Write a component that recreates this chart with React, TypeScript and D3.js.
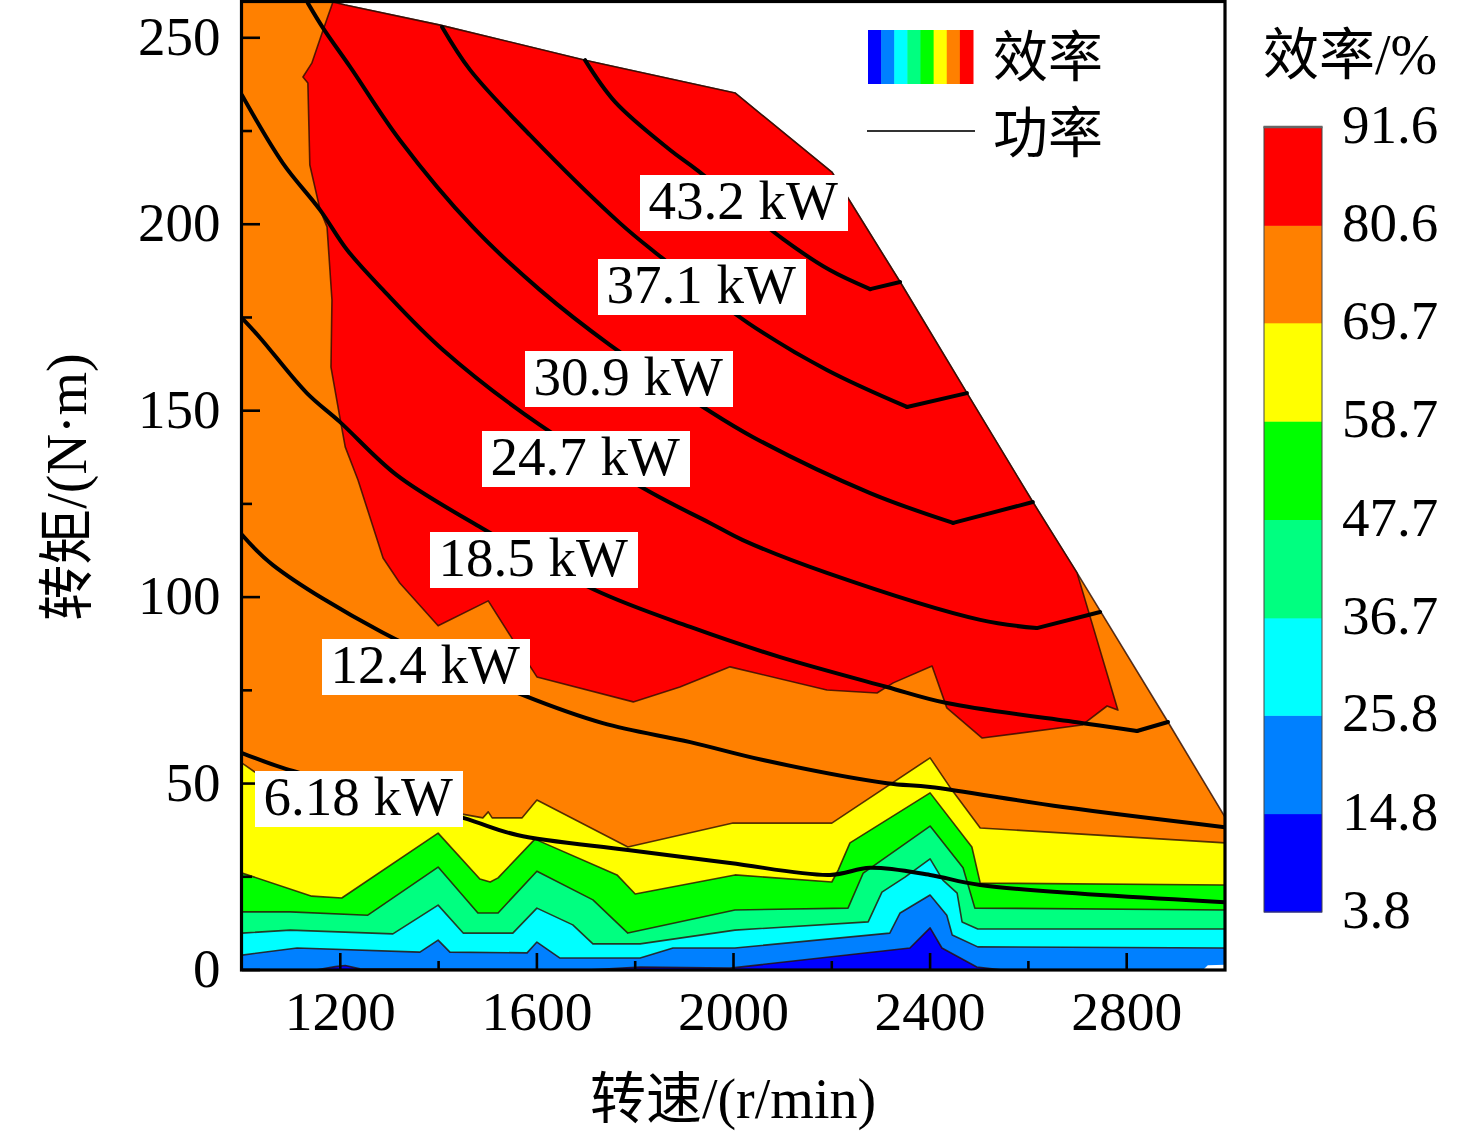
import React from "react";
import * as d3 from "d3";

type Pt = [number, number];

// Efficiency colour bar
const levels = [3.8, 14.8, 25.8, 36.7, 47.7, 58.7, 69.7, 80.6, 91.6];
const levelColors = ["#0000ff", "#0080ff", "#00ffff", "#00ff80", "#00ff00", "#ffff00", "#ff8000", "#ff0000"];

// Axis ticks
const xMajor = [1200, 1600, 2000, 2400, 2800];
const xMinor = [1400, 1800, 2200, 2600];
const yMajor = [0, 50, 100, 150, 200, 250];
const yMinor = [25, 75, 125, 175, 225];

// Contour regions: [speed r/min, torque N·m]
const envelope: Pt[] = [[1000, 0], [1000, 259.6], [1185, 259.6], [1210, 258.8], [1403, 253.4], [1698, 244], [2003, 235.2], [2200, 214], [2339, 184.5], [2475, 154.7], [2609, 125.5], [2699, 106.5], [2884, 66.5], [3000, 41], [3000, 0]];
const redRegion: Pt[] = [[1185, 259.6], [1165, 252.1], [1142, 243.2], [1124, 239.5], [1134, 237.9], [1138, 215.9], [1159, 203.8], [1173, 199.3], [1183, 179.7], [1181, 161.7], [1199, 148.3], [1210, 140.3], [1236, 131.4], [1287, 110.5], [1321, 103.8], [1399, 92.3], [1501, 99], [1549, 89], [1600, 78.6], [1796, 71.9], [1891, 75.9], [1993, 81.3], [2190, 75.1], [2292, 74.3], [2325, 77], [2404, 81.5], [2434, 70.3], [2506, 62.2], [2709, 65.7], [2760, 70.8], [2782, 69.7], [2699, 106.5], [2609, 125.5], [2475, 154.7], [2339, 184.5], [2200, 214], [2003, 235.2], [1698, 244], [1403, 253.4], [1210, 258.8]];
const yellowTop: Pt[] = [[1000, 55.5], [1026, 53.1], [1448, 41.8], [1490, 40.8], [1501, 42.4], [1509, 40.8], [1570, 40.8], [1600, 45.6], [1785, 33], [1999, 39.4], [2200, 39.4], [2400, 56.9], [2440, 49.1], [2502, 38.1], [3000, 34.1]];
const greenTop: Pt[] = [[1000, 26], [1142, 19.8], [1203, 19.3], [1399, 36.7], [1484, 24.4], [1505, 23.6], [1521, 24.7], [1596, 35.1], [1763, 25.5], [1800, 20.4], [2003, 25.5], [2200, 23.6], [2213, 26.8], [2237, 34.1], [2400, 47.5], [2485, 33], [2502, 23.3], [3000, 22.8]];
const springTop: Pt[] = [[1000, 15.6], [1098, 15.6], [1256, 14.7], [1399, 27.6], [1480, 15.3], [1521, 15.3], [1600, 26.5], [1714, 18.8], [1785, 9.9], [2003, 16.1], [2233, 16.6], [2264, 26], [2400, 38.6], [2467, 27.4], [2491, 16.6], [3000, 16.1]];
const cyanTop: Pt[] = [[1000, 9.9], [1098, 10.7], [1307, 9.7], [1399, 17.4], [1450, 9.9], [1551, 9.9], [1600, 16.6], [1673, 12.1], [1714, 7], [1810, 7], [2003, 10.7], [2274, 12.9], [2302, 20.9], [2349, 24.9], [2400, 29.8], [2426, 24.1], [2455, 20.6], [2465, 12.9], [2497, 11], [3000, 11]];
const blueTop: Pt[] = [[1000, 4], [1112, 5.9], [1362, 4.8], [1399, 8], [1423, 4.8], [1580, 4.6], [1600, 7.5], [1647, 3.2], [1810, 3.2], [1877, 5.9], [2003, 5.9], [2318, 9.9], [2339, 15.3], [2400, 20.1], [2434, 14.7], [2445, 9.4], [2497, 6.2], [3000, 5.9]];
const darkBlueTop: Pt[] = [[1150, 0], [1190, 0.9], [1210, 1.2], [1240, 0.3], [1702, 0], [1810, 0.8], [1993, 0.5], [2359, 5.9], [2400, 11.3], [2424, 5.9], [2495, 0.8], [2548, 0]];
const whiteBottom: Pt[] = [[2955, 0], [2965, 1.3], [3000, 1.4]];

// Constant-power curves: the smooth run, then the straight end-piece up to the envelope
const p432: Pt[] = [[1698, 244], [1759, 232.8], [1871, 219.9], [1926, 214.5], [2101, 196], [2196, 187.7], [2278, 182.6]];
const p432End: Pt[] = [[2278, 182.6], [2339, 184.5]];
const p371: Pt[] = [[1407, 252.9], [1464, 241.4], [1586, 223.9], [1769, 200.3], [1840, 192.5], [2030, 173.5], [2190, 160.9], [2353, 151]];
const p371End: Pt[] = [[2353, 151], [2475, 154.7]];
const p309: Pt[] = [[1134, 259.3], [1165, 252.6], [1220, 242.2], [1321, 222.6], [1470, 199.2], [1606, 182.4], [1749, 167.6], [1938, 151], [2040, 142.9], [2278, 127.9], [2447, 119.9]];
const p309End: Pt[] = [[2447, 119.9], [2609, 125.5]];
const p247: Pt[] = [[1000, 234.6], [1083, 216.4], [1159, 203.8], [1214, 193.1], [1287, 182.4], [1409, 166.3], [1606, 146.2], [1834, 127.9], [1952, 119.9], [2019, 115.3], [2190, 106.5], [2502, 93.9], [2617, 91.7]];
const p247End: Pt[] = [[2617, 91.7], [2746, 96]];
const p185: Pt[] = [[1000, 174.8], [1037, 169.5], [1132, 154.7], [1199, 147], [1315, 132.7], [1478, 119.3], [1718, 101.9], [1912, 92], [2095, 83.9], [2312, 75.9], [2434, 71.6], [2711, 66.2], [2821, 64.1]];
const p185End: Pt[] = [[2821, 64.1], [2884, 66.5]];
const p124: Pt[] = [[1000, 116.7], [1063, 108.6], [1285, 90.6], [1572, 73.7], [1734, 66.2], [1912, 61.1], [2060, 56.3], [2312, 50.1], [2400, 49.1], [2670, 43.7], [3000, 38.3]];
const p618: Pt[] = [[1000, 58.2], [1083, 54.2], [1450, 40.8], [1560, 36.2], [1785, 32.2], [1993, 28.7], [2196, 25.5], [2278, 27.4], [2400, 25.5], [2502, 22.8], [3000, 18.2]];
const powerCurves = [p432, p371, p309, p247, p185, p124, p618];
const powerEnds = [p432End, p371End, p309End, p247End, p185End];

const powerLabels = ["43.2 kW", "37.1 kW", "30.9 kW", "24.7 kW", "18.5 kW", "12.4 kW", "6.18 kW"];
const labelLeft = [640, 598, 525, 482, 430, 322, 255];
const labelTop = [175, 259, 351, 431, 532, 639, 771];

const W = 1476;
const H = 1135;
const FONT = "'Liberation Serif', 'Noto Sans CJK SC', serif";

const x = d3.scaleLinear().domain([1000, 3000]).range([242, 1225]);
const y = d3.scaleLinear().domain([0, 259.6]).range([970, 2]);
const barY = d3.scaleLinear().domain([3.8, 91.6]).range([912, 127]);
const swatch = d3.scaleBand<number>().domain(d3.range(levelColors.length)).range([868, 973]);

const line = d3.line<Pt>().x((d) => x(d[0])).y((d) => y(d[1]));
const smooth = d3.line<Pt>().x((d) => x(d[0])).y((d) => y(d[1])).curve(d3.curveCatmullRom.alpha(0.5));
const poly = (pts: Pt[]) => line(pts) + "Z";
const band = (top: Pt[]) => {
  const first = top[0][0];
  const last = top[top.length - 1][0];
  return poly([[first, 0], ...top, [last, 0]]);
};

const OUTLINE = { stroke: "#2a0a00", strokeWidth: 1.6, strokeOpacity: 0.8, strokeLinejoin: "round" as const };
const POWER = { fill: "none", stroke: "#000", strokeWidth: 4, strokeLinejoin: "round" as const, strokeLinecap: "round" as const };

export default function App() {
  const bands: [Pt[], string][] = [
    [yellowTop, levelColors[5]],
    [greenTop, levelColors[4]],
    [springTop, levelColors[3]],
    [cyanTop, levelColors[2]],
    [blueTop, levelColors[1]],
    [darkBlueTop, levelColors[0]],
  ];
  return (
    <svg
      width={W}
      height={H}
      viewBox={`0 0 ${W} ${H}`}
      style={{ position: "absolute", left: 0, top: 0, display: "block", background: "#fff" }}
      fontFamily={FONT}
      fontSize={55}
      fill="#000"
    >
      <defs>
        <clipPath id="plot">
          <rect x={242} y={2} width={983} height={968} />
        </clipPath>
      </defs>

      <g clipPath="url(#plot)">
        <path d={poly(envelope)} fill={levelColors[6]} {...OUTLINE} />
        <path d={poly(redRegion)} fill={levelColors[7]} {...OUTLINE} />
        {bands.map(([top, color], i) => (
          <path key={i} d={band(top)} fill={color} {...OUTLINE} />
        ))}
        <path d={band(whiteBottom)} fill="#fff" />
        {powerCurves.map((c, i) => (
          <path key={i} d={smooth(c) as string} {...POWER} />
        ))}
        {powerEnds.map((c, i) => (
          <path key={i} d={line(c) as string} {...POWER} />
        ))}
      </g>

      {/* Ticks */}
      <g stroke="#000" strokeWidth={2.6}>
        {xMajor.map((t) => <line key={t} x1={x(t)} x2={x(t)} y1={970} y2={953} />)}
        {xMinor.map((t) => <line key={t} x1={x(t)} x2={x(t)} y1={970} y2={961} />)}
        {yMajor.map((t) => <line key={t} x1={242} x2={260} y1={y(t)} y2={y(t)} />)}
        {yMinor.map((t) => <line key={t} x1={242} x2={252} y1={y(t)} y2={y(t)} />)}
      </g>

      <rect x={241.5} y={1.5} width={983.5} height={968.5} fill="none" stroke="#000" strokeWidth={3.2} />

      {/* Power labels */}
      {powerLabels.map((s, i) => (
        <g key={s}>
          <rect x={labelLeft[i]} y={labelTop[i]} width={208} height={56} fill="#fff" />
          <text x={labelLeft[i] + 8.5} y={labelTop[i] + 44} fontSize={55}>{s}</text>
        </g>
      ))}

      {/* Tick labels */}
      {xMajor.map((t) => (
        <text key={t} x={x(t)} y={1029.5} textAnchor="middle" fontSize={55.5}>{t}</text>
      ))}
      {yMajor.map((t) => (
        <text key={t} x={220.5} y={y(t) + 17} textAnchor="end" fontSize={55}>{t}</text>
      ))}

      {/* Axis titles */}
      <text x={733} y={1118} textAnchor="middle" fontSize={56}>转速/(r/min)</text>
      <text transform="translate(86,487) rotate(-90)" textAnchor="middle" fontSize={56}>转矩/(N·m)</text>

      {/* Legend */}
      {levelColors.map((c, i) => (
        <rect key={c} x={swatch(i)} y={30} width={swatch.bandwidth() + 0.5} height={54} fill={c} />
      ))}
      <text x={993} y={76}>效率</text>
      <line x1={867} x2={975} y1={131} y2={131} stroke="#333" strokeWidth={2} />
      <text x={993} y={152}>功率</text>

      {/* Colour bar */}
      <text x={1263} y={74} fontSize={56}>效率/%</text>
      {levelColors.map((c, i) => (
        <rect key={c} x={1264} y={barY(levels[i + 1])} width={58} height={barY(levels[i]) - barY(levels[i + 1]) + 0.5} fill={c} />
      ))}
      <rect x={1264} y={barY(91.6)} width={58} height={barY(3.8) - barY(91.6)} fill="none" stroke="#444" strokeWidth={1} />
      <line x1={1263.5} x2={1322.5} y1={127} y2={127} stroke="#666" strokeWidth={2.5} />
      {levels.map((v) => (
        <text key={v} x={1342} y={barY(v) + 16} fontSize={55}>{v.toFixed(1)}</text>
      ))}
    </svg>
  );
}
